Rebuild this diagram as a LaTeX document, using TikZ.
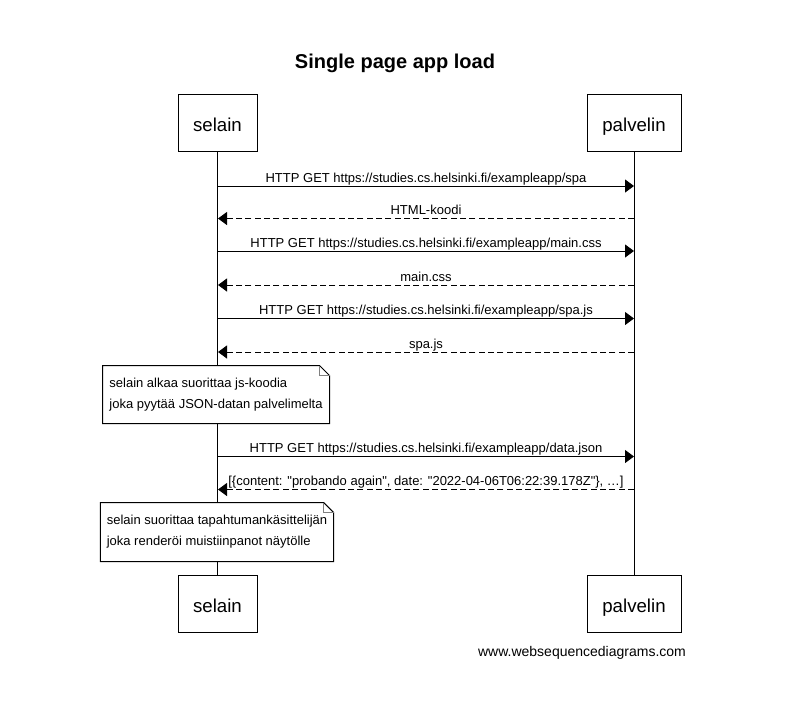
\documentclass[tikz,border=0pt]{standalone}
\usepackage{fontspec}
\setmainfont{Liberation Sans}
\usetikzlibrary{arrows.meta}

\begin{document}
\begin{tikzpicture}[x = 0.75pt, y = -0.75pt, line width = 0.75pt,
                        actor/.style = {draw, fill = white, minimum height = 42.75pt, inner sep = 0pt,
                                        font = \fontsize{14}{16}\selectfont, text height = 13pt, text depth = 0pt},
                        note/.style = {fill = white, minimum height = 42.75pt, inner xsep = 4.5pt, align = left,
                                       font = \fontsize{9.75}{15.75}\selectfont},
                        msg/.style = {-{Triangle[length = 6.75pt, width = 9.75pt]}},
                        reply/.style = {msg, dash pattern = on 4.5pt off 2.5pt},
                        lbl/.style = {midway, anchor = base, yshift = 3pt, inner sep = 0pt,
                                      font = \fontsize{9.75}{12}\selectfont}]
      \useasboundingbox (0, 0) rectangle (808, 711);

      \node [font = \bfseries\fontsize{15}{18}\selectfont, anchor = base] (title) at (395, 68) {Single page app load};

      \node [actor, minimum width = 59.25pt] (s1) at (217.5, 122.5) {selain};
      \node [actor, minimum width = 70.5pt] (p1) at (634, 122.5) {palvelin};
      \node [actor, minimum width = 59.25pt] (s2) at (217.5, 603.5) {selain};
      \node [actor, minimum width = 70.5pt] (p2) at (634, 603.5) {palvelin};

      \draw (s1) -- (s2);
      \draw (p1) -- (p2);

      \coordinate (sa) at (218, 186);   \coordinate (pa) at (634, 186);
      \coordinate (sb) at (218, 218.5); \coordinate (pb) at (634, 218.5);
      \coordinate (sc) at (218, 251);   \coordinate (pc) at (634, 251);
      \coordinate (sd) at (218, 285);   \coordinate (pd) at (634, 285);
      \coordinate (se) at (218, 318.5); \coordinate (pe) at (634, 318.5);
      \coordinate (sf) at (218, 352);   \coordinate (pf) at (634, 352);
      \coordinate (sg) at (218, 456.5); \coordinate (pg) at (634, 456.5);
      \coordinate (sh) at (218, 489.5); \coordinate (ph) at (634, 489.5);

      \draw [msg] (sa) -- node [lbl] {HTTP GET https://studies.cs.helsinki.fi/exampleapp/spa} (pa);
      \draw [reply] (pb) -- node [lbl] {HTML-koodi} (sb);
      \draw [msg] (sc) -- node [lbl] {HTTP GET https://studies.cs.helsinki.fi/exampleapp/main.css} (pc);
      \draw [reply] (pd) -- node [lbl] {main.css} (sd);
      \draw [msg] (se) -- node [lbl] {HTTP GET https://studies.cs.helsinki.fi/exampleapp/spa.js} (pe);
      \draw [reply] (pf) -- node [lbl] {spa.js} (sf);
      \draw [msg] (sg) -- node [lbl] {HTTP GET https://studies.cs.helsinki.fi/exampleapp/data.json} (pg);
      \draw [reply] (ph) -- node [lbl] {[\{content: \textquotedbl probando again\textquotedbl, date: \textquotedbl 2022-04-06T06:22:39.178Z\textquotedbl\}, \dots]} (sh);

      \node [note, minimum width = 169.5pt] (n1) at (216, 394.5)
            {selain alkaa suorittaa js-koodia\\joka pyytää JSON-datan palvelimelta};
      \draw (n1.south west) -- (n1.north west) -- ([xshift = -7.5pt]n1.north east)
            -- ([yshift = -7.5pt]n1.north east) -- (n1.south east) -- cycle;
      \draw [gray] ([xshift = -7.5pt]n1.north east) |- ([yshift = -7.5pt]n1.north east);

      \node [note, minimum width = 174pt, minimum height = 43.5pt] (n2) at (217, 532)
            {selain suorittaa tapahtumankäsittelijän\\joka renderöi muistiinpanot näytölle};
      \draw (n2.south west) -- (n2.north west) -- ([xshift = -7.5pt]n2.north east)
            -- ([yshift = -7.5pt]n2.north east) -- (n2.south east) -- cycle;
      \draw [gray] ([xshift = -7.5pt]n2.north east) |- ([yshift = -7.5pt]n2.north east);

      \node [font = \fontsize{10.5}{12}\selectfont, anchor = base] (web) at (582, 656) {www.websequencediagrams.com};

      \end{tikzpicture}
\end{document}
